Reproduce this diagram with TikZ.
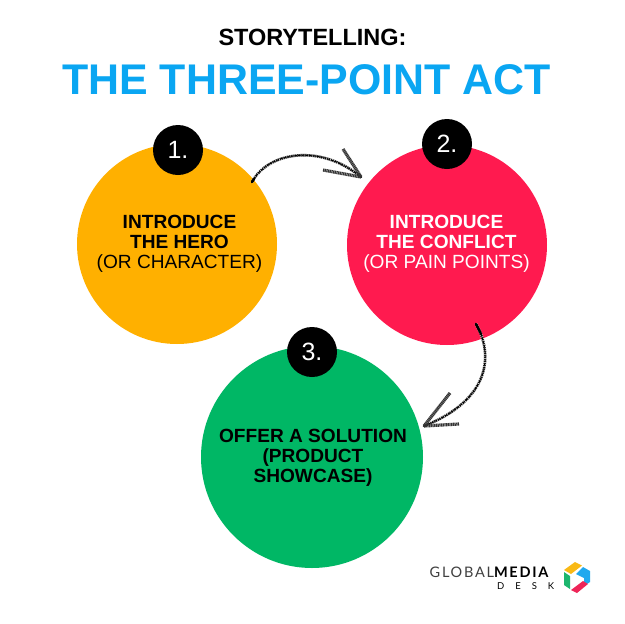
\documentclass[tikz,border=0pt]{standalone}
\usepackage{fontspec}
\setmainfont{Liberation Sans}
\newfontfamily\logofont{Lato}
\definecolor{cyanT}{HTML}{0AA6F2}
\definecolor{orangeC}{HTML}{FFB000}
\definecolor{redC}{HTML}{FF1A4F}
\definecolor{greenC}{HTML}{00B765}
\definecolor{logoY}{HTML}{F9B915}
\definecolor{logoB}{HTML}{1FA9EE}
\definecolor{logoR}{HTML}{EE2558}
\definecolor{logoG}{HTML}{1DB66E}
\tikzset{
 disc/.style={circle,inner sep=0pt,minimum size=#1},
 numdisc/.style={circle,fill=black,inner sep=0pt,minimum size=50pt,text=white,font=\fontsize{25}{25}\selectfont},
 lbl/.style={align=center,font=\fontsize{19.1}{19.7}\selectfont},
 brushA/.style={line width=2.6pt,black!85,line cap=round},
 brushB/.style={line width=3pt,white,dash pattern=on 0.5pt off 1.5pt,line cap=butt},
 brushC/.style={line width=1pt,black,dash pattern=on 2.5pt off 1.2pt,line cap=butt},
 brushD/.style={line width=3.2pt,black!80,dash pattern=on 1.2pt off 0.5pt,line cap=butt},
}
\begin{document}
\begin{tikzpicture}[x=1pt,y=-1pt]
\useasboundingbox[fill=white] (0,0) rectangle (624,624);
\node at (312.5,37) {\fontsize{23.5}{24}\selectfont\bfseries STORYTELLING:};
\node[text=cyanT] at (306.5,80) {\fontsize{42.9}{43}\selectfont\bfseries THE THREE-POINT ACT};
\node[disc=200pt,fill=orangeC] (hero) at (177,244) {};
\node[disc=200pt,fill=redC] (conflict) at (447,245) {};
\node[disc=222pt,fill=greenC] (solution) at (312,457) {};
\node[numdisc] (n1) at (178,150) {1.};
\node[numdisc] (n2) at (447,144) {2.};
\node[numdisc] (n3) at (312,352) {3.};
\node[lbl] at (179.5,244) {\bfseries INTRODUCE\\\bfseries THE HERO\\(OR CHARACTER)};
\node[lbl,text=white] at (446.5,244) {\bfseries INTRODUCE\\\bfseries THE CONFLICT\\(OR PAIN POINTS)};
\node[lbl] at (313,458) {\bfseries OFFER A SOLUTION\\\bfseries (PRODUCT\\\bfseries SHOWCASE)};
% sketchy arrows
\coordinate (a1s) at (252,182); \coordinate (a1e) at (361,177);
\coordinate (a2s) at (476,324); \coordinate (a2e) at (424,426);
\foreach \st in {brushA,brushB,brushC}{
 \draw[\st] (a1s) .. controls (268,152) and (320,143) .. (a1e);
 \draw[\st] (a2s) .. controls (494,355) and (490,400) .. (a2e);
}
\foreach \st in {brushD}{
 \draw[\st] (a1e) -- (343,149);
 \draw[\st] (a1e) -- (323,170);
 \draw[\st] (a2e) -- (450,393);
 \draw[\st] (a2e) -- (459,424);
}
\draw[line width=2.4pt,black,line cap=round] (a1s) -- (254,179);
\draw[line width=2.4pt,black,line cap=round] (a2s) -- (481,334);
% logo
\node[anchor=base west,inner sep=0pt] (lg1) at (429.5,577) {\logofont\fontsize{14.5}{15}\selectfont\addfontfeature{LetterSpace=12}\textcolor{black!75}{GLOBAL}\textbf{MEDIA}};
\node[anchor=base west,inner sep=0pt] (lg2) at (497,589) {\logofont\fontsize{9.5}{10}\selectfont\addfontfeature{LetterSpace=115}DESK};
\fill[logoY] (564,570)--(575,562)--(582,565.5)--(571,574)--cycle;
\fill[logoB] (576,574)--(583,567)--(590,571)--(590,582)--(584,586)--(584,578)--cycle;
\fill[logoG] (564,572)--(570,576)--(570,589)--(564,585)--cycle;
\fill[logoR] (571,590)--(583,581)--(588,584)--(577,593)--cycle;
\end{tikzpicture}
\end{document}
